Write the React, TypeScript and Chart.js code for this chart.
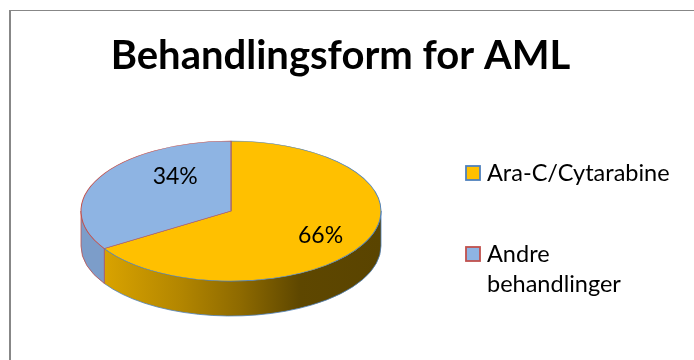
import React, { useEffect, useRef } from 'react';
import { Chart, registerables } from 'chart.js';

Chart.register(...registerables);

// ---- data ----
const titleText = 'Behandlingsform for AML';
const categories = ['Ara-C/Cytarabine', 'Andre behandlinger'];
const legendLines = [['Ara-C/Cytarabine'], ['Andre', 'behandlinger']];
const values = [66, 34];

// ---- styles ----
const FILL = ['#FFC000', '#8EB4E3'];
const EDGE = ['#4F81BD', '#C0504D'];
const FONT = 'Lato, "Open Sans", "DejaVu Sans", sans-serif';

const CX = 231;
const CY = 211;
const RX = 150;
const RY = 70;
const DEPTH = 35;

const LABEL_R = [0.688, 0.624];
const LABEL_SHIFT = [0.018, 0.43];

function visibleRanges(a: number, b: number): [number, number][] {
  const out: [number, number][] = [];
  for (const k of [-2, 0, 2]) {
    const lo = Math.max(a, k * Math.PI);
    const hi = Math.min(b, (k + 1) * Math.PI);
    if (hi > lo) out.push([lo, hi]);
  }
  return out;
}

const piePlugin = {
  id: 'pie3d',
  beforeDraw(chart: any) {
    const ctx = chart.ctx;
    ctx.save();
    ctx.fillStyle = '#ffffff';
    ctx.fillRect(0, 0, chart.width, chart.height);
    ctx.fillStyle = '#878787';
    ctx.fillRect(9, 10, 2, chart.height - 10);
    ctx.fillRect(9, 10, chart.width - 9, 1);
    ctx.restore();
  },
  beforeDatasetsDraw(chart: any) {
    const ctx = chart.ctx;
    const meta = chart.getDatasetMeta(0);
    // side walls
    meta.data.forEach((el: any, i: number) => {
      const ranges = visibleRanges(el.startAngle, el.endAngle);
      ranges.forEach(([t1, t2]) => {
        ctx.save();
        ctx.beginPath();
        ctx.ellipse(CX, CY, RX, RY, 0, t1, t2, false);
        ctx.ellipse(CX, CY + DEPTH, RX, RY, 0, t2, t1, true);
        ctx.closePath();
        if (i === 0) {
          const g = ctx.createLinearGradient(CX - RX, 0, CX + RX, 0);
          g.addColorStop(0, '#E3AA00');
          g.addColorStop(0.05, '#DDA600');
          g.addColorStop(0.33, '#B38600');
          g.addColorStop(0.53, '#8E6A00');
          g.addColorStop(0.73, '#5E4700');
          g.addColorStop(1, '#5A4400');
          ctx.fillStyle = g;
        } else {
          ctx.fillStyle = '#7C9DC9';
        }
        ctx.fill();
        ctx.strokeStyle = EDGE[i];
        ctx.lineWidth = 0.8;
        ctx.stroke();
        ctx.restore();
      });
    });
    // squash the library-drawn pie into the top face
    const el0 = meta.data[0];
    const R = el0.outerRadius;
    ctx.save();
    ctx.translate(CX, CY);
    ctx.scale(RX / R, RY / R);
    ctx.translate(-el0.x, -el0.y);
  },
  afterDatasetsDraw(chart: any) {
    const ctx = chart.ctx;
    ctx.restore();
    const meta = chart.getDatasetMeta(0);
    const total = values.reduce((s, v) => s + v, 0);
    ctx.save();
    ctx.fillStyle = '#000000';
    ctx.font = `23px ${FONT}`;
    ctx.textAlign = 'center';
    ctx.textBaseline = 'alphabetic';
    meta.data.forEach((el: any, i: number) => {
      const mid = (el.startAngle + el.endAngle) / 2 + LABEL_SHIFT[i];
      const x = CX + RX * LABEL_R[i] * Math.cos(mid);
      const y = CY + RY * LABEL_R[i] * Math.sin(mid);
      const pct = Math.round((values[i] / total) * 100) + '%';
      ctx.fillText(pct, x, y + 8);
    });
    ctx.restore();
  },
  afterDraw(chart: any) {
    const ctx = chart.ctx;
    ctx.save();
    // title
    ctx.fillStyle = '#000000';
    ctx.font = `bold 40px ${FONT}`;
    ctx.textAlign = 'center';
    ctx.textBaseline = 'alphabetic';
    ctx.fillText(titleText, 340.5, 69);
    // legend
    const ds = chart.data.datasets[0];
    const boxTops = [166, 247];
    ctx.font = `23.5px ${FONT}`;
    ctx.textAlign = 'left';
    legendLines.forEach((lines, i) => {
      const top = boxTops[i];
      ctx.fillStyle = ds.backgroundColor[i];
      ctx.fillRect(466, top, 14, 14);
      ctx.strokeStyle = ds.borderColor[i];
      ctx.lineWidth = 1.8;
      ctx.strokeRect(466, top, 14, 14);
      ctx.fillStyle = '#000000';
      lines.forEach((line, j) => {
        ctx.fillText(line, 487, top + 15 + j * 30);
      });
    });
    ctx.restore();
  },
};

export default function App() {
  const ref = useRef<HTMLCanvasElement | null>(null);
  useEffect(() => {
    if (!ref.current) return;
    const chart = new Chart(ref.current, {
      type: 'pie',
      data: {
        labels: categories,
        datasets: [
          {
            data: values,
            backgroundColor: FILL,
            borderColor: EDGE,
            borderWidth: 1,
          },
        ],
      },
      options: {
        animation: false,
        responsive: false,
        devicePixelRatio: 1,
        layout: { padding: { left: 81, right: 313, top: 30, bottom: 30 } },
        plugins: {
          legend: { display: false },
          title: { display: false },
          tooltip: { enabled: false },
        },
        events: [],
      },
      plugins: [piePlugin],
    } as any);
    return () => chart.destroy();
  }, []);
  return (
    <div style={{ position: 'absolute', left: 0, top: 0, width: 694, height: 360 }}>
      <canvas ref={ref} width={694} height={360} style={{ display: 'block' }} />
    </div>
  );
}
